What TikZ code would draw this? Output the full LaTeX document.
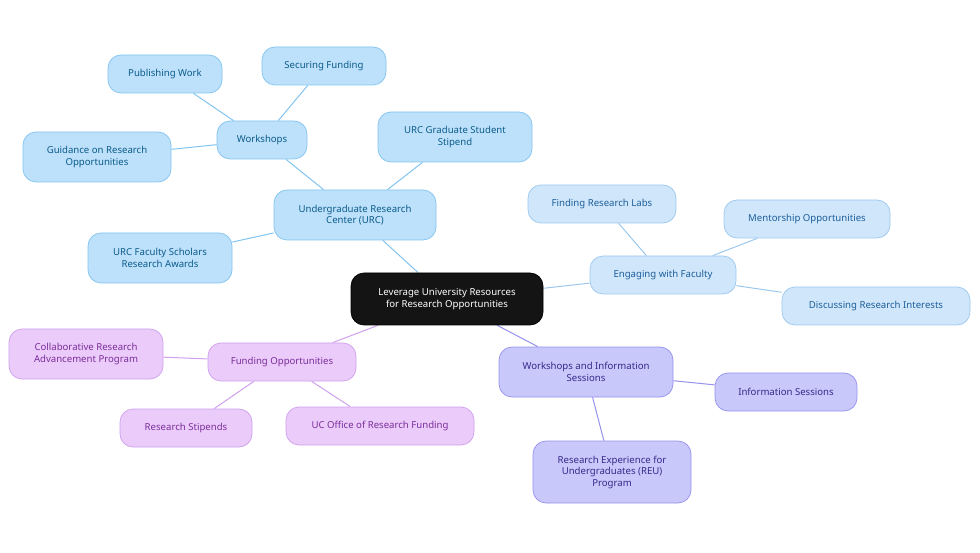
\documentclass[tikz,border=0pt]{standalone}
\usepackage{fontspec}
\setmainfont{Noto Sans}
\usetikzlibrary{backgrounds}
\definecolor{bF}{HTML}{BDE0FB}\definecolor{bD}{HTML}{82C4F0}\definecolor{bT}{HTML}{0B5C8A}
\definecolor{lF}{HTML}{CFE6FB}\definecolor{lD}{HTML}{9CC8EE}\definecolor{lT}{HTML}{1D5E9A}
\definecolor{pF}{HTML}{C9C8FB}\definecolor{pD}{HTML}{9591EC}\definecolor{pT}{HTML}{35298A}
\definecolor{kF}{HTML}{EBCBFA}\definecolor{kD}{HTML}{CFA0EE}\definecolor{kT}{HTML}{7A2E9A}
\begin{document}
\begin{tikzpicture}[x=1pt,y=-1pt,
 n/.style={rounded corners=13pt,align=center,font=\fontsize{9.6}{11.5}\selectfont,inner sep=0pt,line width=0.7pt},
 b/.style={n,fill=bF,draw=bD,text=bT},
 l/.style={n,fill=lF,draw=lD,text=lT},
 p/.style={n,fill=pF,draw=pD,text=pT},
 k/.style={n,fill=kF,draw=kD,text=kT},
 eb/.style={draw=bD,line width=1pt},
 el/.style={draw=lD,line width=1pt},
 ep/.style={draw=pD,line width=1pt},
 ek/.style={draw=kD,line width=1pt}]
\useasboundingbox (0,0) rectangle (980,553);
\node[n,fill=black!92,text=white,draw=black,minimum width=192pt,minimum height=52pt] (c) at (447,299) {Leverage University Resources\\for Research Opportunities};
\node[b,minimum width=162pt,minimum height=50pt] (urc) at (355,215) {Undergraduate Research\\Center (URC)};
\node[b,minimum width=90pt,minimum height=38pt] (ws) at (262,140) {Workshops};
\node[b,minimum width=114pt,minimum height=38pt] (pw) at (165,74) {Publishing Work};
\node[b,minimum width=124pt,minimum height=38pt] (sf) at (324,66) {Securing Funding};
\node[b,minimum width=148pt,minimum height=50pt] (gr) at (97,157) {Guidance on Research\\Opportunities};
\node[b,minimum width=154pt,minimum height=50pt] (gs) at (455,137) {URC Graduate Student\\Stipend};
\node[b,minimum width=144pt,minimum height=50pt] (fs) at (160,258) {URC Faculty Scholars\\Research Awards};
\node[l,minimum width=146pt,minimum height=38pt] (ef) at (663,275) {Engaging with Faculty};
\node[l,minimum width=148pt,minimum height=38pt] (fl) at (602,204) {Finding Research Labs};
\node[l,minimum width=166pt,minimum height=38pt] (mo) at (807,219) {Mentorship Opportunities};
\node[l,minimum width=188pt,minimum height=38pt] (dr) at (876,306) {Discussing Research Interests};
\node[p,minimum width=174pt,minimum height=50pt] (wi) at (586,372) {Workshops and Information\\Sessions};
\node[p,minimum width=142pt,minimum height=38pt] (is) at (786,392) {Information Sessions};
\node[p,minimum width=158pt,minimum height=62pt] (reu) at (612,472) {Research Experience for\\Undergraduates (REU)\\Program};
\node[k,minimum width=148pt,minimum height=38pt] (fo) at (282,362) {Funding Opportunities};
\node[k,minimum width=154pt,minimum height=50pt] (cr) at (86,354) {Collaborative Research\\Advancement Program};
\node[k,minimum width=132pt,minimum height=38pt] (rs) at (186,428) {Research Stipends};
\node[k,minimum width=188pt,minimum height=38pt] (uc) at (380,426) {UC Office of Research Funding};
\begin{scope}[on background layer]
\draw[eb] (c) -- (urc); \draw[eb] (urc) -- (ws); \draw[eb] (urc) -- (gs); \draw[eb] (urc) -- (fs);
\draw[eb] (ws) -- (pw); \draw[eb] (ws) -- (sf); \draw[eb] (ws) -- (gr);
\draw[el] (c) -- (ef); \draw[el] (ef) -- (fl); \draw[el] (ef) -- (mo); \draw[el] (ef) -- (dr);
\draw[ep] (c) -- (wi); \draw[ep] (wi) -- (is); \draw[ep] (wi) -- (reu);
\draw[ek] (c) -- (fo); \draw[ek] (fo) -- (cr); \draw[ek] (fo) -- (rs); \draw[ek] (fo) -- (uc);
\end{scope}
\end{tikzpicture}
\end{document}
